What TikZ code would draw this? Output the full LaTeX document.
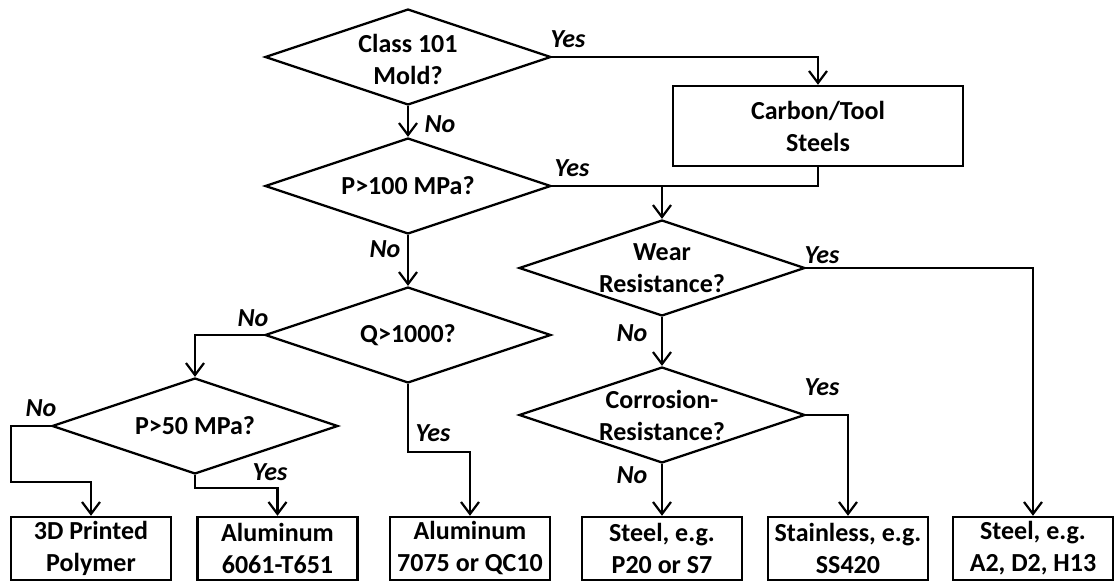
\documentclass[tikz,border=0pt]{standalone}
\usepackage{fontspec}
\setmainfont{Carlito}
\usetikzlibrary{shapes.geometric,arrows.meta,calc}
\begin{document}
\begin{tikzpicture}[x=0.5pt,y=-0.5pt,
  every node/.style={font=\fontsize{13}{16}\selectfont\bfseries},
  dia/.style={draw,shape=diamond,line width=1.15pt,inner sep=0pt,minimum width=143pt,minimum height=48pt},
  txt/.style={align=center,inner sep=0pt},
  box/.style={draw,rectangle,line width=1.2pt,align=center,minimum width=80pt,minimum height=31.5pt,inner sep=0pt},
  lab/.style={font=\fontsize{13}{15}\selectfont\bfseries\itshape,inner sep=0pt},
  ln/.style={line width=1.15pt},
  arr/.style={line width=1.15pt,-{Straight Barb[length=6pt,width=9pt,line width=1.1pt]}}
]
\useasboundingbox (0,0) rectangle (1115,582);
% diamonds
\node[dia] (d1) at (408,57) {};
\node[txt] (d1t) at (408,59) {Class 101\\Mold?};
\node[dia] (d2) at (408,186) {};
\node[txt] (d2t) at (408,186) {P>100 MPa?};
\node[dia] (d3) at (408,335) {};
\node[txt] (d3t) at (408,335) {Q>1000?};
\node[dia] (d4) at (195,426) {};
\node[txt] (d4t) at (195,426) {P>50 MPa?};
\node[dia] (dw) at (662,268) {};
\node[txt] (dwt) at (662,268) {Wear\\Resistance?};
\node[dia] (dc) at (662,415) {};
\node[txt] (dct) at (662,415) {Corrosion-\\Resistance?};
% boxes
\node[box,minimum width=145pt,minimum height=40pt] (cts) at (818,126) {Carbon/Tool\\Steels};
\node[box] (b1) at (91,548.5) {3D Printed\\Polymer};
\node[box] (b2) at (277.5,548.5) {Aluminum\\6061-T651};
\node[box] (b3) at (470,548.5) {Aluminum\\7075 or QC10};
\node[box] (b4) at (662,548.5) {Steel, e.g.\\P20 or S7};
\node[box] (b5) at (848,548.5) {Stainless, e.g.\\SS420};
\node[box] (b6) at (1033,548.5) {Steel, e.g.\\A2, D2, H13};
% connectors
\draw[arr] (d1.east) -| (cts.north);
\draw[arr] (d1.south) -- (d2.north);
\draw[ln] (d2.east) -| (cts.south);
\draw[arr] (dw.north |- d2.east) -- (dw.north);
\draw[arr] (d2.south) -- (d3.north);
\draw[arr] (d3.west) -| (d4.north);
\draw[arr] (d3.south) -- ++(0,68) -| (b3.north);
\coordinate (c1) at (11,482);
\draw[arr] (d4.west) -| (c1) -| (b1.north);
\draw[arr] (d4.south) -- ++(0,13) -| (b2.north);
\draw[arr] (dw.east) -| (b6.north);
\draw[arr] (dw.south) -- (dc.north);
\draw[arr] (dc.east) -| (b5.north);
\draw[arr] (dc.south) -- (b4.north);
% labels
\node[lab] (l1) at (568,39) {Yes};
\node[lab] (l2) at (440,124) {No};
\node[lab] (l3) at (572,168) {Yes};
\node[lab] (l4) at (385,249) {No};
\node[lab] (l5) at (253,318) {No};
\node[lab] (l6) at (41,408) {No};
\node[lab] (l7) at (270,472) {Yes};
\node[lab] (l8) at (433,433) {Yes};
\node[lab] (l9) at (822,255) {Yes};
\node[lab] (l10) at (632,333) {No};
\node[lab] (l11) at (822,387) {Yes};
\node[lab] (l12) at (632,475) {No};
\end{tikzpicture}
\end{document}
